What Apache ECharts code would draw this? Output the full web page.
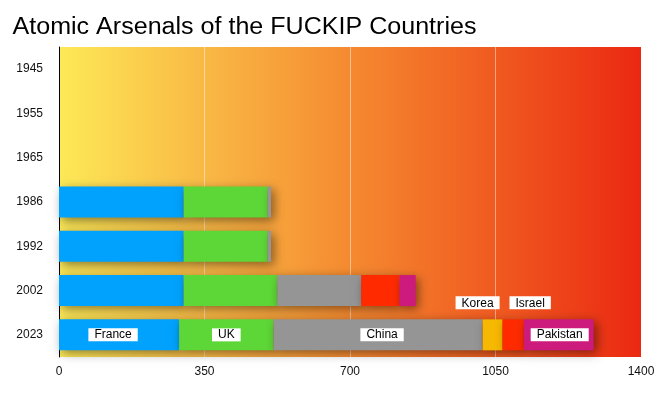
<!DOCTYPE html>
<html>
<head>
<meta charset="utf-8">
<script src="https://cdn.jsdelivr.net/npm/echarts@6/dist/echarts.min.js"></script>
<style>
html,body{margin:0;padding:0;background:#fff;}
#chart{width:671px;height:395px;}
</style>
</head>
<body>
<div id="chart"></div>
<script>
const titleText = 'Atomic Arsenals of the FUCKIP Countries';
const years = ['1945','1955','1965','1986','1992','2002','2023'];
const france   = [null, null, null, 300, 300, 300, 289];
const uk       = [null, null, null, 202, 202, 225, 227];
const china    = [null, null, null, 8, 8, 202, 503];
const korea    = [null, null, null, null, null, null, 48];
const israel   = [null, null, null, null, null, 92, 51];
const pakistan = [null, null, null, null, null, 39, 168];
const xTicks = [0, 350, 700, 1050, 1400];

const seriesDefs = [
  {name:'France', data:france, color:'#00a2fd', pos:'inside', offset:[-6,0]},
  {name:'UK', data:uk, color:'#5dd737', pos:'inside', offset:[0,0]},
  {name:'China', data:china, color:'#959595', pos:'inside', offset:[4,0]},
  {name:'Korea', data:korea, color:'#f6b800', pos:'top', offset:[-15,-2]},
  {name:'Israel', data:israel, color:'#ff2a00', pos:'top', offset:[17,-2]},
  {name:'Pakistan', data:pakistan, color:'#cc1b7c', pos:'inside', offset:[1,0]}
];
const labelIdx = years.length - 1;
const font = 'Liberation Sans, Arial, sans-serif';

const chart = echarts.init(document.getElementById('chart'), null, {renderer:'canvas'});
chart.setOption({
  animation:false,
  backgroundColor:'#ffffff',
  graphic:[{
    type:'text', x:12.5, y:16, scaleX:1.09,
    style:{text:titleText, fontSize:23, fontFamily:font, fill:'#000', verticalAlign:'top', align:'left'}
  }],
  grid:{
    left:59, right:30, top:47, bottom:38,
    show:true, borderWidth:0,
    backgroundColor:new echarts.graphic.LinearGradient(0,0,1,0,[
      {offset:0, color:'#fde957'},
      {offset:0.25, color:'#f9b945'},
      {offset:0.5, color:'#f58a30'},
      {offset:0.75, color:'#f05a20'},
      {offset:1, color:'#eb2812'}
    ])
  },
  xAxis:{
    type:'value', min:xTicks[0], max:xTicks[xTicks.length-1], interval:350,
    axisLine:{show:false}, axisTick:{show:false},
    splitLine:{show:true, lineStyle:{color:'rgba(255,255,255,0.45)', width:1}},
    axisLabel:{color:'#111', fontSize:12, fontFamily:font, margin:9, formatter:v => String(v)}
  },
  yAxis:{
    type:'category', data:years, inverse:true,
    axisLine:{show:true, lineStyle:{color:'#000', width:1}},
    axisTick:{show:false},
    axisLabel:{color:'#111', fontSize:12, fontFamily:font, margin:16}
  },
  series: seriesDefs.map(s => ({
    name:s.name, type:'bar', stack:'total', barWidth:31,
    itemStyle:{color:s.color, shadowBlur:10, shadowColor:'rgba(0,0,0,0.45)', shadowOffsetX:3, shadowOffsetY:3},
    data: s.data.map((v,i) => i === labelIdx ? {
      value:v,
      label:{show:true, position:s.pos, distance:8, offset:s.offset, formatter:s.name,
        backgroundColor:'#fff', color:'#000', padding:[1,6,0,6],
        fontSize:12, fontFamily:font}
    } : v)
  }))
});
</script>
</body>
</html>
